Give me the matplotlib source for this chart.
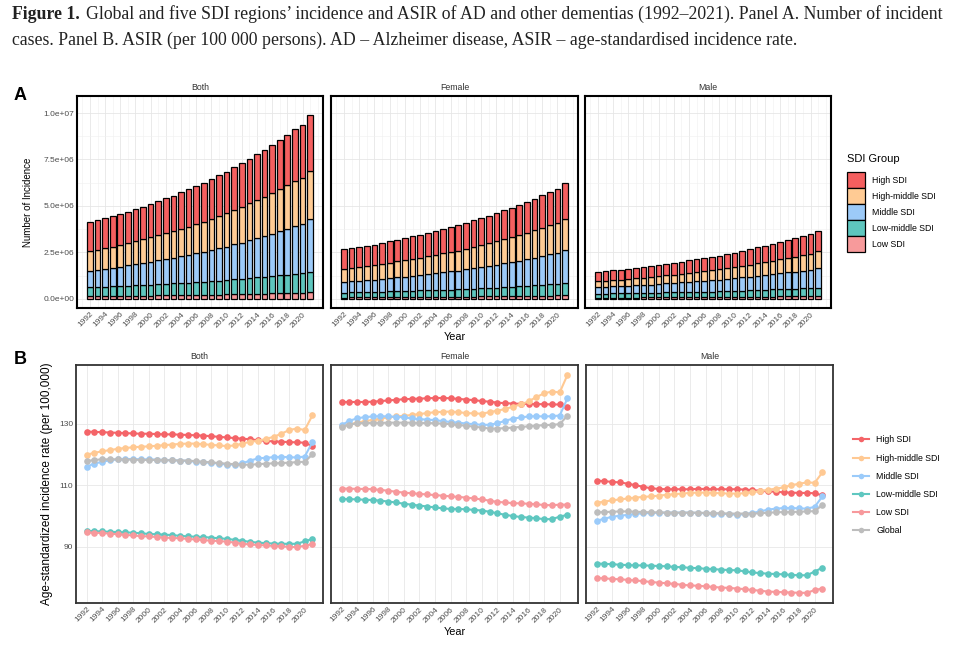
import numpy as np
import matplotlib
matplotlib.use("Agg")
import matplotlib.pyplot as plt
from matplotlib.patches import Patch
from matplotlib.lines import Line2D
from matplotlib.ticker import MultipleLocator

plt.rcParams['font.family'] = ['Liberation Sans', 'DejaVu Sans']

years = list(range(1992, 2022))
groups = ['High SDI', 'High-middle SDI', 'Middle SDI', 'Low-middle SDI', 'Low SDI']
sexes = ['Both', 'Female', 'Male']

# Panel A - incident cases, millions
both_high = [1.56, 1.59, 1.61, 1.64, 1.66, 1.70, 1.73, 1.76, 1.80, 1.83, 1.88, 1.91, 1.95, 2.00, 2.03,
             2.08, 2.13, 2.18, 2.23, 2.29, 2.34, 2.40, 2.46, 2.52, 2.59, 2.66, 2.73, 2.79, 2.86, 2.98]
both_hm = [1.04, 1.07, 1.10, 1.12, 1.16, 1.20, 1.23, 1.27, 1.31, 1.35, 1.39, 1.43, 1.48, 1.52, 1.57,
           1.62, 1.67, 1.73, 1.78, 1.85, 1.91, 1.98, 2.04, 2.11, 2.18, 2.25, 2.33, 2.41, 2.48, 2.62]
both_mid = [0.90, 0.94, 0.98, 1.01, 1.04, 1.09, 1.14, 1.18, 1.23, 1.28, 1.33, 1.38, 1.44, 1.49, 1.55,
            1.60, 1.67, 1.74, 1.80, 1.88, 1.95, 2.04, 2.12, 2.20, 2.28, 2.38, 2.47, 2.57, 2.65, 2.82]
both_lm = [0.48, 0.49, 0.50, 0.51, 0.53, 0.54, 0.56, 0.57, 0.59, 0.61, 0.62, 0.64, 0.65, 0.67, 0.69,
           0.70, 0.73, 0.75, 0.77, 0.80, 0.82, 0.85, 0.88, 0.90, 0.93, 0.96, 0.99, 1.02, 1.05, 1.10]
both_low = [0.150, 0.155, 0.158, 0.162, 0.166, 0.171, 0.176, 0.180, 0.185, 0.192, 0.197, 0.202, 0.208,
            0.215, 0.220, 0.227, 0.234, 0.241, 0.249, 0.257, 0.265, 0.274, 0.283, 0.292, 0.302, 0.311,
            0.322, 0.332, 0.341, 0.360]

female_high = [1.05, 1.07, 1.08, 1.10, 1.11, 1.13, 1.15, 1.17, 1.19, 1.21, 1.24, 1.26, 1.28, 1.31, 1.33,
               1.36, 1.39, 1.42, 1.45, 1.48, 1.51, 1.55, 1.58, 1.62, 1.66, 1.70, 1.74, 1.78, 1.82, 1.89]
female_hm = [0.72, 0.74, 0.76, 0.77, 0.79, 0.82, 0.84, 0.86, 0.89, 0.91, 0.94, 0.96, 0.99, 1.02, 1.05,
             1.08, 1.11, 1.15, 1.18, 1.22, 1.26, 1.30, 1.34, 1.38, 1.43, 1.47, 1.52, 1.57, 1.61, 1.70]
female_mid = [0.56, 0.59, 0.61, 0.63, 0.65, 0.68, 0.71, 0.74, 0.77, 0.80, 0.83, 0.86, 0.90, 0.93, 0.97,
              1.00, 1.05, 1.09, 1.13, 1.18, 1.22, 1.28, 1.33, 1.38, 1.43, 1.49, 1.55, 1.61, 1.66, 1.77]
female_lm = [0.26, 0.27, 0.27, 0.28, 0.29, 0.30, 0.31, 0.32, 0.33, 0.34, 0.35, 0.36, 0.37, 0.38, 0.39,
             0.40, 0.42, 0.43, 0.44, 0.46, 0.47, 0.49, 0.51, 0.52, 0.54, 0.56, 0.58, 0.60, 0.62, 0.65]
female_low = [0.080, 0.083, 0.085, 0.087, 0.089, 0.092, 0.095, 0.097, 0.100, 0.104, 0.107, 0.110, 0.113,
              0.117, 0.120, 0.124, 0.128, 0.132, 0.137, 0.141, 0.146, 0.151, 0.156, 0.161, 0.167, 0.172,
              0.178, 0.184, 0.189, 0.200]

male_high = [0.51, 0.52, 0.53, 0.54, 0.55, 0.57, 0.58, 0.59, 0.61, 0.62, 0.64, 0.65, 0.67, 0.69, 0.70,
             0.72, 0.74, 0.76, 0.78, 0.81, 0.83, 0.85, 0.88, 0.90, 0.93, 0.96, 0.99, 1.01, 1.04, 1.09]
male_hm = [0.32, 0.33, 0.34, 0.35, 0.37, 0.38, 0.39, 0.41, 0.42, 0.44, 0.45, 0.47, 0.49, 0.50, 0.52,
           0.54, 0.56, 0.58, 0.60, 0.63, 0.65, 0.68, 0.70, 0.73, 0.75, 0.78, 0.81, 0.84, 0.87, 0.92]
male_mid = [0.34, 0.35, 0.37, 0.38, 0.39, 0.41, 0.43, 0.44, 0.46, 0.48, 0.50, 0.52, 0.54, 0.56, 0.58,
            0.60, 0.62, 0.65, 0.67, 0.70, 0.73, 0.76, 0.79, 0.82, 0.85, 0.89, 0.92, 0.96, 0.99, 1.05]
male_lm = [0.22, 0.22, 0.23, 0.23, 0.24, 0.24, 0.25, 0.25, 0.26, 0.27, 0.27, 0.28, 0.28, 0.29, 0.30,
           0.30, 0.31, 0.32, 0.33, 0.34, 0.35, 0.36, 0.37, 0.38, 0.39, 0.40, 0.41, 0.42, 0.43, 0.45]
male_low = [0.070, 0.072, 0.073, 0.075, 0.077, 0.079, 0.081, 0.083, 0.085, 0.088, 0.090, 0.092, 0.095,
            0.098, 0.100, 0.103, 0.106, 0.109, 0.112, 0.116, 0.119, 0.123, 0.127, 0.131, 0.135, 0.139,
            0.144, 0.148, 0.152, 0.160]

# Panel B - ASIR per 100,000
asir_both_high = [127.4, 127.3, 127.2, 127.1, 127.0, 126.9, 126.8, 126.7, 126.7, 126.6, 126.5, 126.5, 126.4, 126.3, 126.2,
                  126.1, 125.9, 125.7, 125.5, 125.3, 125.1, 124.9, 124.6, 124.4, 124.2, 124.1, 124.0, 123.9, 123.8, 122.7]
asir_both_hm = [119.9, 120.5, 121.0, 121.4, 121.8, 122.1, 122.3, 122.5, 122.6, 122.8, 123.0, 123.2, 123.4, 123.5, 123.5,
                123.3, 123.1, 122.9, 122.7, 122.9, 123.5, 124.1, 124.4, 125.0, 125.7, 126.7, 127.9, 128.4, 127.9, 132.7]
asir_both_mid = [116.0, 117.0, 117.6, 118.1, 118.4, 118.5, 118.5, 118.4, 118.4, 118.3, 118.2, 118.1, 118.0, 117.9, 117.6,
                 117.4, 117.3, 117.0, 116.7, 116.7, 117.1, 118.0, 118.7, 118.9, 119.1, 119.2, 119.1, 119.0, 119.3, 124.0]
asir_both_lm = [95.2, 95.1, 95.0, 94.9, 94.8, 94.7, 94.6, 94.4, 94.2, 94.1, 94.0, 93.8, 93.6, 93.4, 93.3,
                93.2, 93.0, 92.8, 92.6, 92.3, 92.0, 91.6, 91.4, 91.2, 91.1, 91.0, 91.0, 91.0, 91.8, 92.6]
asir_both_low = [94.7, 94.6, 94.5, 94.3, 94.1, 93.9, 93.7, 93.5, 93.4, 93.2, 93.0, 92.9, 92.8, 92.6, 92.4,
                 92.2, 92.0, 91.9, 91.7, 91.4, 91.0, 90.8, 90.6, 90.5, 90.3, 90.2, 90.0, 89.9, 90.4, 90.9]
asir_both_global = [117.8, 118.2, 118.4, 118.4, 118.4, 118.3, 118.3, 118.2, 118.2, 118.2, 118.1, 118.1, 118.0, 118.0, 117.8,
                    117.6, 117.4, 117.2, 117.0, 116.8, 116.6, 116.7, 116.8, 117.0, 117.1, 117.2, 117.3, 117.5, 117.6, 120.0]

asir_female_high = [137.0, 137.0, 137.0, 137.0, 137.1, 137.3, 137.5, 137.7, 137.9, 138.0, 138.1, 138.2, 138.3, 138.3, 138.2,
                    138.0, 137.8, 137.6, 137.3, 137.1, 136.8, 136.6, 136.5, 136.4, 136.4, 136.3, 136.3, 136.2, 136.2, 135.4]
asir_female_hm = [129.2, 129.8, 130.3, 130.8, 131.2, 131.6, 132.0, 132.3, 132.5, 132.8, 133.1, 133.4, 133.7, 133.8, 133.9,
                  133.7, 133.4, 133.3, 133.2, 133.7, 134.2, 134.7, 135.5, 136.2, 137.2, 138.6, 139.8, 140.4, 140.1, 145.8]
asir_female_mid = [129.5, 130.9, 131.7, 132.1, 132.3, 132.4, 132.3, 132.2, 132.0, 131.7, 131.4, 131.3, 131.1, 130.8, 130.5,
                   130.3, 130.0, 129.8, 129.6, 129.6, 130.1, 130.9, 131.6, 132.0, 132.3, 132.4, 132.3, 132.4, 132.6, 138.2]
asir_female_lm = [105.5, 105.5, 105.4, 105.3, 105.2, 105.0, 104.7, 104.4, 104.0, 103.7, 103.4, 103.1, 102.8, 102.5, 102.3,
                  102.3, 102.2, 102.0, 101.8, 101.4, 100.9, 100.4, 100.0, 99.7, 99.5, 99.3, 99.0, 99.0, 99.8, 100.4]
asir_female_low = [108.9, 108.9, 108.8, 108.8, 108.7, 108.5, 108.2, 107.9, 107.6, 107.4, 107.2, 107.0, 106.8, 106.6, 106.4,
                   106.2, 106.0, 105.7, 105.4, 105.0, 104.6, 104.4, 104.2, 104.1, 104.0, 103.8, 103.6, 103.5, 103.7, 103.7]
asir_female_global = [129.0, 129.6, 130.1, 130.2, 130.2, 130.2, 130.3, 130.3, 130.3, 130.3, 130.2, 130.2, 130.1, 130.0, 129.8,
                       129.5, 129.3, 129.0, 128.7, 128.4, 128.4, 128.5, 128.7, 128.9, 129.1, 129.3, 129.5, 129.6, 129.8, 132.6]

asir_male_high = [111.5, 111.3, 111.1, 110.9, 110.5, 110.0, 109.5, 109.0, 108.8, 108.7, 108.7, 108.7, 108.7, 108.8, 108.8,
                  108.7, 108.7, 108.7, 108.7, 108.6, 108.4, 108.2, 108.0, 107.9, 107.7, 107.6, 107.5, 107.5, 107.4, 106.7]
asir_male_hm = [104.3, 104.7, 105.1, 105.4, 105.7, 106.0, 106.2, 106.4, 106.6, 106.9, 107.1, 107.3, 107.5, 107.6, 107.6,
                107.5, 107.4, 107.3, 107.3, 107.4, 107.7, 108.1, 108.5, 108.9, 109.3, 110.0, 110.5, 110.9, 110.8, 114.2]
asir_male_mid = [98.5, 99.1, 99.8, 100.1, 100.4, 100.7, 100.9, 101.0, 101.1, 101.1, 101.1, 101.1, 101.1, 101.0, 100.9,
                 100.8, 100.8, 100.6, 100.4, 100.6, 101.0, 101.5, 102.1, 102.4, 102.6, 102.6, 102.5, 102.4, 103.0, 106.4]
asir_male_lm = [84.6, 84.5, 84.4, 84.2, 84.1, 84.0, 84.0, 83.9, 83.8, 83.7, 83.5, 83.4, 83.2, 83.1, 82.9,
                82.8, 82.6, 82.5, 82.4, 82.1, 81.7, 81.5, 81.3, 81.2, 81.1, 80.9, 80.8, 80.8, 82.0, 83.3]
asir_male_low = [79.9, 79.8, 79.6, 79.5, 79.3, 79.1, 78.9, 78.6, 78.4, 78.2, 78.0, 77.7, 77.5, 77.4, 77.2,
                 77.0, 76.8, 76.7, 76.5, 76.3, 76.0, 75.8, 75.5, 75.4, 75.3, 75.2, 75.1, 75.1, 76.0, 76.5]
asir_male_global = [101.2, 101.3, 101.4, 101.5, 101.5, 101.4, 101.3, 101.2, 101.2, 101.1, 101.1, 101.1, 101.1, 101.1, 101.0,
                    100.9, 100.9, 100.8, 100.8, 100.8, 100.8, 100.9, 101.1, 101.2, 101.3, 101.3, 101.4, 101.5, 101.6, 103.6]

bar_colors = {'High SDI': '#F45F5F', 'High-middle SDI': '#FFCB94', 'Middle SDI': '#9CCAF8',
              'Low-middle SDI': '#5EC6BE', 'Low SDI': '#F79A9B'}
line_colors = {'High SDI': '#F46468', 'High-middle SDI': '#FFC993', 'Middle SDI': '#9BCBFA',
               'Low-middle SDI': '#5FC7C0', 'Low SDI': '#F7999C', 'Global': '#BDBDBD'}

cases = {
    'Both': [both_high, both_hm, both_mid, both_lm, both_low],
    'Female': [female_high, female_hm, female_mid, female_lm, female_low],
    'Male': [male_high, male_hm, male_mid, male_lm, male_low],
}
asir = {
    'Both': [asir_both_high, asir_both_hm, asir_both_mid, asir_both_lm, asir_both_low, asir_both_global],
    'Female': [asir_female_high, asir_female_hm, asir_female_mid, asir_female_lm, asir_female_low, asir_female_global],
    'Male': [asir_male_high, asir_male_hm, asir_male_mid, asir_male_lm, asir_male_low, asir_male_global],
}

W, H = 970, 664
fig = plt.figure(figsize=(W / 100, H / 100), dpi=100)


def add_ax(l, t, r, b):
    return fig.add_axes([l / W, 1 - b / H, (r - l) / W, (b - t) / H])


def style(ax, lw, col):
    ax.set_facecolor('white')
    ax.set_axisbelow(True)
    for s in ax.spines.values():
        s.set_linewidth(lw)
        s.set_color(col)
    ax.tick_params(which='both', length=0, labelsize=6, labelcolor='#4D4D4D', pad=2)
    ax.set_xticks(years[::2])
    ax.set_xticklabels([str(y) for y in years[::2]], rotation=45, ha='right',
                       rotation_mode='anchor')


# caption
cap_font = dict(family=['Liberation Serif', 'DejaVu Serif'], size=12.8, color='#222222')
t1 = fig.text(12 / W, 1 - 19 / H, 'Figure 1.', weight='bold', va='baseline', **cap_font)
fig.canvas.draw()
bb = t1.get_window_extent()
fig.text((bb.x1 + 6) / W, 1 - 19 / H,
         'Global and five SDI regions\u2019 incidence and ASIR of AD and other dementias (1992\u20132021). '
         'Panel A. Number of incident', va='baseline', **cap_font)
fig.text(12 / W, 1 - 45 / H,
         'cases. Panel B. ASIR (per 100 000 persons). AD \u2013 Alzheimer disease, ASIR \u2013 age-standardised incidence rate.',
         va='baseline', **cap_font)

# Panel A
a_pos = [(77, 323), (331, 578), (585, 831)]
for i, sex in enumerate(sexes):
    ax = add_ax(a_pos[i][0], 96, a_pos[i][1], 308)
    style(ax, 1.5, 'black')
    ax.xaxis.set_minor_locator(MultipleLocator(1))
    ax.yaxis.set_major_locator(MultipleLocator(2.5e6))
    ax.yaxis.set_minor_locator(MultipleLocator(1.25e6))
    ax.grid(True, which='major', color='#E6E6E6', lw=0.6)
    ax.grid(True, which='minor', color='#F0F0F0', lw=0.4)
    bottom = np.zeros(len(years))
    for g, vals in zip(groups[::-1], cases[sex][::-1]):
        v = np.array(vals) * 1e6
        ax.bar(years, v, bottom=bottom, width=0.75, color=bar_colors[g],
               edgecolor='black', linewidth=0.9)
        bottom += v
    ax.set_xlim(1992 - 1.7, 2021 + 1.7)
    ax.set_ylim(-4.84e5, 1.0914e7)
    ax.set_title(sex, fontsize=6.3, color='#333333', pad=4)
    if i == 0:
        ax.set_yticks([0, 2.5e6, 5e6, 7.5e6, 1e7])
        ax.set_yticklabels(['0.0e+00', '2.5e+06', '5.0e+06', '7.5e+06', '1.0e+07'])
        ax.set_ylabel('Number of Incidence', fontsize=7)
        ax.yaxis.set_label_coords(-0.18, 0.5)
    else:
        ax.set_yticklabels([])
    if i == 1:
        ax.set_xlabel('Year', fontsize=7.8, labelpad=2)

fig.text(14 / W, 1 - 100 / H, 'A', fontsize=13, weight='bold')

handles_a = [Patch(facecolor=bar_colors[g], edgecolor='black', linewidth=0.9) for g in groups]
leg_a = fig.legend(handles_a, groups, loc='upper left', bbox_to_anchor=(845 / W, 1 - 152 / H),
                   frameon=False, fontsize=6.3, title='SDI Group', title_fontsize=8,
                   handlelength=2.1, handleheight=2.45, labelspacing=0, handletextpad=0.8,
                   borderaxespad=0, borderpad=0.2)
leg_a._legend_box.align = 'left'
leg_a._legend_box.sep = 6

# Panel B
b_pos = [(76, 323), (331, 578), (586, 833)]
for i, sex in enumerate(sexes):
    ax = add_ax(b_pos[i][0], 365, b_pos[i][1], 603)
    style(ax, 1.3, '#333333')
    ax.grid(True, which='major', color='#E8E8E8', lw=0.6)
    for g, vals in zip(groups + ['Global'], asir[sex]):
        ax.plot(years, vals, color=line_colors[g], lw=1.5, marker='o', ms=4.8,
                markeredgewidth=0)
    ax.set_xlim(1992 - 1.35, 2021 + 1.35)
    ax.set_ylim(71.8, 149)
    ax.set_yticks([90, 110, 130])
    ax.set_title(sex, fontsize=6.3, color='#333333', pad=4)
    if i == 0:
        ax.set_ylabel('Age-standardized incidence rate (per 100,000)', fontsize=8.5)
        ax.yaxis.set_label_coords(-0.095, 0.5)
    else:
        ax.set_yticklabels([])
    if i == 1:
        ax.set_xlabel('Year', fontsize=7.8, labelpad=2)

fig.text(14 / W, 1 - 364 / H, 'B', fontsize=13, weight='bold')

handles_b = [Line2D([], [], color=line_colors[g], lw=1.5, marker='o', ms=4, markeredgewidth=0)
             for g in groups + ['Global']]
fig.legend(handles_b, groups + ['Global'], loc='upper left', bbox_to_anchor=(850 / W, 1 - 432 / H),
           frameon=False, fontsize=6.3, handlelength=1.8, labelspacing=1.05, handletextpad=0.8,
           borderaxespad=0)

fig.savefig('out.png', dpi=100)
